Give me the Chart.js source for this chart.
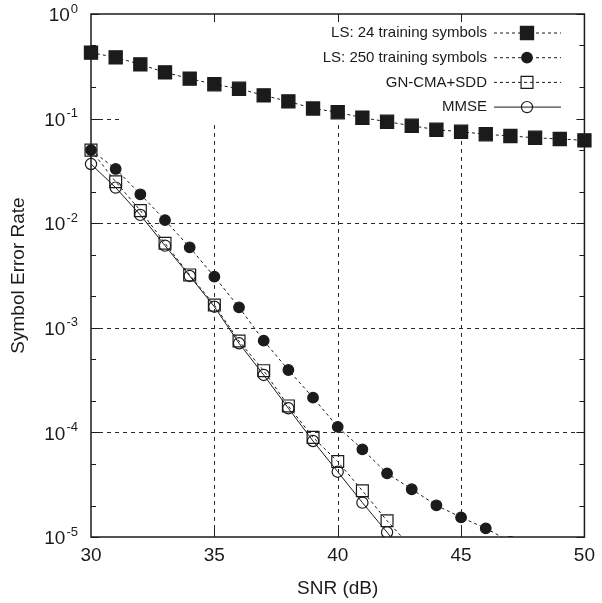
<!DOCTYPE html>
<html>
<head>
<meta charset="utf-8">
<script src="https://cdn.jsdelivr.net/npm/chart.js@4.4.1/dist/chart.umd.min.js"></script>
<style>
  html, body { margin: 0; padding: 0; background: #fff; }
  #wrap { position: relative; width: 602px; height: 603px; }
</style>
</head>
<body>
<div id="wrap"><canvas id="serChart"></canvas></div>
<script>
// values (SNR in dB, symbol error rate)
const seriesNames = ['LS: 24 training symbols', 'LS: 250 training symbols', 'GN-CMA+SDD', 'MMSE'];

const snrLs24 = [30, 31, 32, 33, 34, 35, 36, 37, 38, 39, 40, 41, 42, 43, 44, 45, 46, 47, 48, 49, 50];
const serLs24 = [0.427, 0.385, 0.330, 0.277, 0.241, 0.213, 0.193, 0.167, 0.146, 0.125, 0.115,
                 0.102, 0.0934, 0.0855, 0.0783, 0.0749, 0.0708, 0.0682, 0.0656, 0.0638, 0.0620];

const snrLs250 = [30, 31, 32, 33, 34, 35, 36, 37, 38, 39, 40, 41, 42, 43, 44, 45, 46, 47];
const serLs250 = [0.050, 0.033, 0.0189, 0.0107, 0.00588, 0.00308, 0.00157, 7.53e-4, 3.95e-4,
                  2.15e-4, 1.13e-4, 6.89e-5, 4.06e-5, 2.86e-5, 2.01e-5, 1.54e-5, 1.21e-5, 9.0e-6];

const snrGn = [30, 31, 32, 33, 34, 35, 36, 37, 38, 39, 40, 41, 42, 43];
const serGn = [0.050, 0.0249, 0.0132, 0.00643, 0.00320, 0.00165, 7.48e-4, 3.89e-4, 1.79e-4,
               8.97e-5, 5.26e-5, 2.77e-5, 1.43e-5, 7.9e-6];

const snrMmse = [30, 31, 32, 33, 34, 35, 36, 37, 38, 39, 40, 41, 42, 43];
const serMmse = [0.0368, 0.0219, 0.0120, 0.00610, 0.00313, 0.00159, 7.11e-4, 3.54e-4, 1.70e-4,
                 8.27e-5, 4.21e-5, 2.13e-5, 1.11e-5, 5.6e-6];

const xTicks = [30, 35, 40, 45, 50];
const yExponents = [0, -1, -2, -3, -4, -5];
const yMinor = [2, 5];

const ink = '#1b1b1b';
const fontFamily = '"Liberation Sans", Arial, Helvetica, sans-serif';

// region of the key, where the grid is not drawn
const keyBox = { left: 121, right: 576, bottom: 121 };

const toPoints = (xs, ys) => xs.map((v, i) => ({ x: v, y: ys[i] }));

function drawMarker(ctx, style, x, y, r, filled) {
  ctx.beginPath();
  if (style === 'rect') {
    const s = Math.SQRT1_2 * r;
    ctx.rect(x - s, y - s, 2 * s, 2 * s);
  } else {
    ctx.arc(x, y, r, 0, Math.PI * 2);
  }
  if (filled) { ctx.fillStyle = ink; ctx.fill(); }
  ctx.lineWidth = 1.2;
  ctx.strokeStyle = ink;
  ctx.stroke();
}

const framePlugin = {
  id: 'frame',
  beforeDatasetsDraw(chart) {
    const { ctx, chartArea: a, scales: { x, y } } = chart;
    const px = v => Math.round(v) + 0.5;

    // dashed grid
    ctx.save();
    ctx.beginPath();
    ctx.rect(a.left, a.top, a.width, a.height);
    ctx.rect(keyBox.left, a.top, keyBox.right - keyBox.left, keyBox.bottom - a.top);
    ctx.clip('evenodd');
    ctx.strokeStyle = '#2a2a2a';
    ctx.lineWidth = 1;
    ctx.setLineDash([4, 4]);
    xTicks.slice(1, -1).forEach(v => {
      const gx = px(x.getPixelForValue(v));
      ctx.beginPath(); ctx.moveTo(gx, a.bottom); ctx.lineTo(gx, a.top); ctx.stroke();
    });
    yExponents.slice(1, -1).forEach(e => {
      const gy = px(y.getPixelForValue(Math.pow(10, e)));
      ctx.beginPath(); ctx.moveTo(a.left, gy); ctx.lineTo(a.right, gy); ctx.stroke();
    });
    ctx.restore();

    // frame and inward ticks
    ctx.save();
    ctx.strokeStyle = ink;
    ctx.lineWidth = 1.5;
    ctx.strokeRect(a.left, a.top, a.width, a.height);
    ctx.lineWidth = 1;
    ctx.beginPath();
    xTicks.slice(1, -1).forEach(v => {
      const tx = px(x.getPixelForValue(v));
      ctx.moveTo(tx, a.bottom); ctx.lineTo(tx, a.bottom - 8);
      ctx.moveTo(tx, a.top); ctx.lineTo(tx, a.top + 8);
    });
    yExponents.forEach(e => {
      const ty = px(y.getPixelForValue(Math.pow(10, e)));
      ctx.moveTo(a.left, ty); ctx.lineTo(a.left + 8, ty);
      ctx.moveTo(a.right, ty); ctx.lineTo(a.right - 8, ty);
      if (e < 0) {
        yMinor.forEach(m => {
          const my = px(y.getPixelForValue(m * Math.pow(10, e)));
          ctx.moveTo(a.left, my); ctx.lineTo(a.left + 5, my);
          ctx.moveTo(a.right, my); ctx.lineTo(a.right - 5, my);
        });
      }
    });
    ctx.stroke();

    // y tick labels with superscript exponents
    ctx.fillStyle = ink;
    ctx.textBaseline = 'middle';
    ctx.textAlign = 'right';
    yExponents.forEach(e => {
      const ty = y.getPixelForValue(Math.pow(10, e));
      const sup = String(e);
      ctx.font = `13px ${fontFamily}`;
      const supW = ctx.measureText(sup).width;
      ctx.fillText(sup, 78, ty - 5);
      ctx.font = `19px ${fontFamily}`;
      ctx.fillText('10', 78 - supW - 1, ty + 2);
    });
    ctx.restore();
  },
  afterDatasetsDraw(chart) {
    const { ctx } = chart;
    ctx.save();
    ctx.font = `15px ${fontFamily}`;
    ctx.textAlign = 'right';
    ctx.textBaseline = 'middle';
    chart.data.datasets.forEach((ds, i) => {
      const ly = 33 + i * 24.7;
      ctx.fillStyle = ink;
      ctx.fillText(ds.label, 487, ly);
      ctx.strokeStyle = ink;
      ctx.lineWidth = 1;
      ctx.setLineDash(ds.borderDash || []);
      ctx.beginPath(); ctx.moveTo(494, ly); ctx.lineTo(561, ly); ctx.stroke();
      ctx.setLineDash([]);
      drawMarker(ctx, ds.pointStyle, 527, ly, ds.pointRadius, ds.pointBackgroundColor !== 'transparent');
    });
    ctx.restore();
  }
};

const lineSet = (label, xs, ys, style, radius, filled, dash) => ({
  label,
  data: toPoints(xs, ys),
  borderColor: ink,
  borderWidth: 1,
  borderDash: dash,
  pointStyle: style,
  pointRadius: radius,
  pointHoverRadius: radius,
  pointBorderWidth: 1.2,
  pointBorderColor: ink,
  pointBackgroundColor: filled ? ink : 'transparent',
  tension: 0,
  clip: { left: 12, top: 12, right: 12, bottom: 0 }
});

new Chart(document.getElementById('serChart'), {
  type: 'line',
  data: {
    datasets: [
      lineSet(seriesNames[0], snrLs24, serLs24, 'rect', 9.3, true, [3, 3]),
      lineSet(seriesNames[1], snrLs250, serLs250, 'circle', 5.3, true, [3, 3]),
      lineSet(seriesNames[2], snrGn, serGn, 'rect', 8.4, false, [3, 3]),
      lineSet(seriesNames[3], snrMmse, serMmse, 'circle', 5.6, false, [])
    ]
  },
  options: {
    responsive: true,
    maintainAspectRatio: false,
    animation: false,
    layout: { padding: { top: 14, right: 11, left: 0, bottom: 0 } },
    plugins: { legend: { display: false }, tooltip: { enabled: false } },
    scales: {
      x: {
        type: 'linear',
        min: 30,
        max: 50,
        afterFit: s => { s.height = 66; },
        grid: { display: false, drawTicks: false },
        border: { display: false },
        ticks: { stepSize: 5, padding: 7, color: ink, font: { family: fontFamily, size: 19 } },
        title: {
          display: true, text: 'SNR (dB)', color: ink,
          font: { family: fontFamily, size: 19 }, padding: { top: 0, bottom: 3 }
        }
      },
      y: {
        type: 'logarithmic',
        min: 1e-5,
        max: 1,
        afterFit: s => { s.width = 91; },
        grid: { display: false, drawTicks: false },
        border: { display: false },
        ticks: { display: false },
        title: {
          display: true, text: 'Symbol Error Rate', color: ink,
          font: { family: fontFamily, size: 19 }, padding: { top: 7, bottom: 0 }
        }
      }
    }
  },
  plugins: [framePlugin]
});
</script>
</body>
</html>
